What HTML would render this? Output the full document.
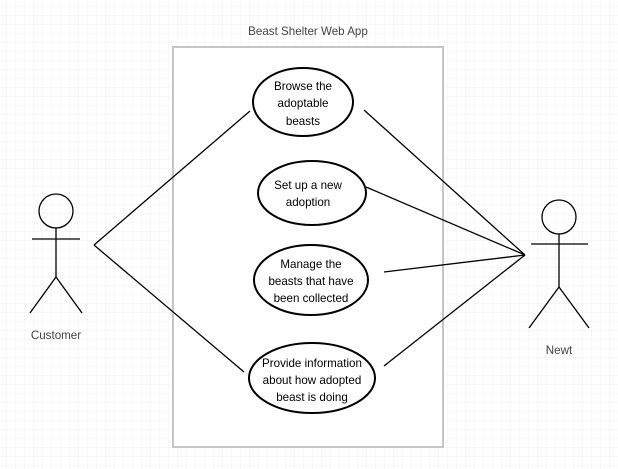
<!DOCTYPE html>
<html><head><style>
html,body{margin:0;padding:0;background:#fff}
svg{display:block}
text{font-family:"Liberation Sans",sans-serif;font-size:11.6px;fill:#000}
</style></head><body>
<svg width="618" height="469" viewBox="0 0 618 469">
<defs>
<pattern id="g" width="9" height="9" patternUnits="userSpaceOnUse" x="6" y="6">
<path d="M0 0H9M0 0V9" stroke="#f0f0f0" stroke-width="1" fill="none"/>
</pattern>
</defs>
<rect width="618" height="469" fill="url(#g)"/>
<rect x="173" y="47" width="270" height="400" fill="#fff" stroke="#c6c6c6" stroke-width="2"/>
<text x="308" y="35" text-anchor="middle" style="fill:#444">Beast Shelter Web App</text>
<g stroke="#000" stroke-width="1.3" fill="none">
<line x1="94" y1="245" x2="250" y2="111"/>
<line x1="94" y1="245" x2="244" y2="372"/>
<line x1="525" y1="255" x2="364" y2="110"/>
<line x1="525" y1="255" x2="366" y2="187"/>
<line x1="525" y1="255" x2="384" y2="272"/>
<line x1="525" y1="255" x2="384" y2="366"/>
<circle cx="56" cy="211" r="17"/>
<line x1="56" y1="228" x2="56" y2="277"/>
<line x1="32" y1="239" x2="80" y2="239"/>
<line x1="56" y1="277" x2="30" y2="313"/>
<line x1="56" y1="277" x2="82" y2="313"/>
<circle cx="559" cy="217" r="17"/>
<line x1="559" y1="234" x2="559" y2="287"/>
<line x1="531" y1="244" x2="588" y2="244"/>
<line x1="559" y1="287" x2="529" y2="328"/>
<line x1="559" y1="287" x2="589" y2="328"/>
</g>
<g stroke="#000" stroke-width="2" fill="#fff">
<ellipse cx="303" cy="102" rx="50" ry="34"/>
<ellipse cx="312" cy="193" rx="54" ry="32"/>
<ellipse cx="311" cy="280" rx="57" ry="35"/>
<ellipse cx="312" cy="378" rx="63" ry="35"/>
</g>
<text x="56" y="339" text-anchor="middle" style="fill:#444">Customer</text>
<text x="559" y="354" text-anchor="middle" style="fill:#444">Newt</text>
<g text-anchor="middle">
<text x="303" y="90">Browse the</text>
<text x="303" y="107">adoptable</text>
<text x="303" y="125">beasts</text>
<text x="308" y="189">Set up a new</text>
<text x="308" y="206">adoption</text>
<text x="311" y="268">Manage the</text>
<text x="311" y="285">beasts that have</text>
<text x="311" y="302">been collected</text>
<text x="312" y="367">Provide information</text>
<text x="312" y="384">about how adopted</text>
<text x="312" y="401">beast is doing</text>
</g>
</svg>
</body></html>
